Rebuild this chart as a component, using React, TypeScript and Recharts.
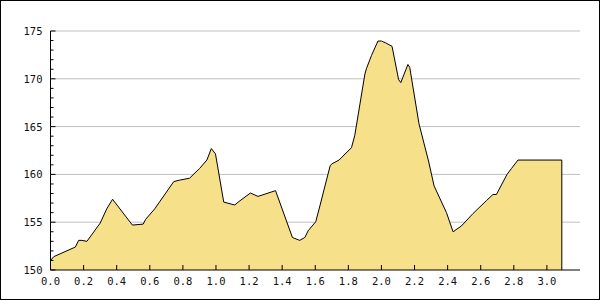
import React from "react";
import { AreaChart, Area, XAxis, YAxis, CartesianGrid } from "recharts";

const distances = [
  0.0, 0.02, 0.15, 0.17, 0.19, 0.22, 0.3, 0.34, 0.375, 0.495, 0.56, 0.575, 0.63, 0.745, 0.78,
  0.84, 0.9, 0.945, 0.972, 0.997, 1.047, 1.114, 1.134, 1.208, 1.254, 1.36, 1.462, 1.506, 1.537,
  1.557, 1.603, 1.631, 1.69, 1.7, 1.744, 1.819, 1.839, 1.9, 1.909, 1.94, 1.979, 2.0, 2.026, 2.064,
  2.104, 2.117, 2.16, 2.171, 2.227, 2.286, 2.318, 2.393, 2.433, 2.483, 2.553, 2.634, 2.674, 2.695,
  2.759, 2.785, 2.825, 3.09, 3.09,
];
const elevations = [
  151.0, 151.4, 152.4, 153.1, 153.1, 153.0, 154.9, 156.4, 157.4, 154.7, 154.8, 155.3, 156.4, 159.25,
  159.4, 159.6, 160.6, 161.5, 162.7, 162.15, 157.1, 156.8, 157.1, 158.05, 157.7, 158.3, 153.4, 153.1,
  153.4, 154.1, 155.05, 156.9, 160.9, 161.1, 161.5, 162.8, 164.1, 170.5, 171.05, 172.45, 173.95,
  173.95, 173.75, 173.4, 169.9, 169.6, 171.5, 171.2, 165.3, 161.3, 158.8, 156.0, 154.0, 154.6, 155.9,
  157.25, 157.9, 157.9, 160.0, 160.6, 161.5, 161.5, 150.0,
];
const xTicks = [0, 0.2, 0.4, 0.6, 0.8, 1.0, 1.2, 1.4, 1.6, 1.8, 2.0, 2.2, 2.4, 2.6, 2.8, 3.0];
const yTicks = [
  150, 151, 152, 153, 154, 155, 156, 157, 158, 159, 160, 161, 162, 163, 164, 165, 166, 167, 168,
  169, 170, 171, 172, 173, 174, 175,
];
const yGrid = [155, 160, 165, 170, 175];

const data = distances.map((x, i) => ({ x, y: elevations[i] }));

const FONT = "'DejaVu Sans Mono', monospace";

const YTick = (props: any) => {
  const { x, y, payload } = props;
  const v = payload.value as number;
  const major = v % 5 === 0;
  return (
    <g>
      <line x1={x} x2={x + (major ? 5 : 3)} y1={y} y2={y} stroke="#000" />
      {major && (
        <text x={x - 8} y={y} dy={4} textAnchor="end" fontFamily={FONT} fontSize={10.5} fill="#111">
          {v}
        </text>
      )}
    </g>
  );
};

const XTick = (props: any) => {
  const { x, y, payload } = props;
  const v = payload.value as number;
  return (
    <g>
      <line x1={x} x2={x} y1={y} y2={y - 5} stroke="#000" />
      <text x={x} y={y} dy={14.5} textAnchor="middle" fontFamily={FONT} fontSize={10.5} fill="#111">
        {v.toFixed(1)}
      </text>
    </g>
  );
};

export default function App() {
  return (
    <div style={{ position: "absolute", left: 0, top: 0, width: 600, height: 300, background: "#fff" }}>
      <AreaChart width={600} height={300} data={data} margin={{ top: 31, right: 20, bottom: 0, left: 0.5 }}>
        <CartesianGrid vertical={false} horizontalValues={yGrid} stroke="#c0c0c0" />
        <XAxis
          type="number"
          dataKey="x"
          domain={[0, 3.2]}
          ticks={xTicks}
          height={30}
          tickSize={0}
          tickMargin={0}
          tickLine={false}
          axisLine={{ stroke: "#000" }}
          tick={<XTick />}
          interval={0}
          allowDataOverflow
        />
        <YAxis
          type="number"
          domain={[150, 175]}
          ticks={yTicks}
          width={50}
          tickSize={0}
          tickMargin={0}
          tickLine={false}
          axisLine={{ stroke: "#000" }}
          tick={<YTick />}
          interval={0}
          allowDataOverflow
        />
        <Area
          type="linear"
          dataKey="y"
          stroke="#000"
          strokeWidth={1}
          fill="#f7e08a"
          fillOpacity={1}
          baseValue={150}
          isAnimationActive={false}
          dot={false}
          activeDot={false}
        />
      </AreaChart>
      <div
        style={{
          position: "absolute",
          left: 0,
          top: 0,
          width: 600,
          height: 300,
          boxSizing: "border-box",
          border: "1px solid #000",
          pointerEvents: "none",
        }}
      />
    </div>
  );
}
